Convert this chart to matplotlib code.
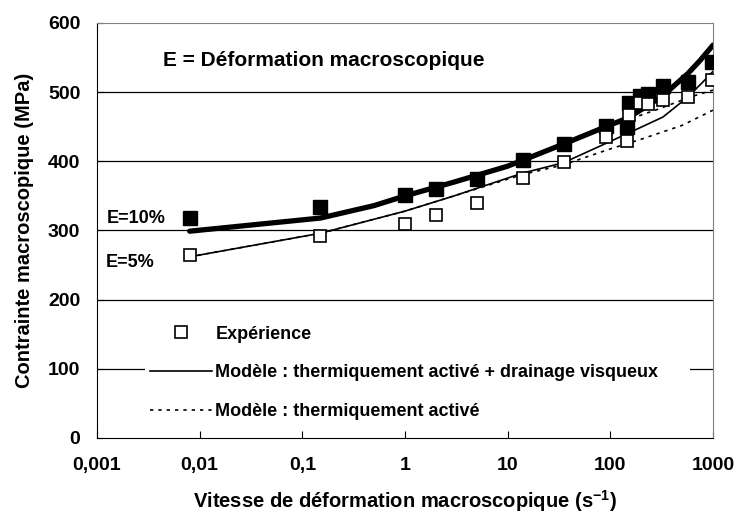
import matplotlib
matplotlib.use('Agg')
import matplotlib.pyplot as plt
from matplotlib.lines import Line2D

plt.rcParams['font.family'] = ['Liberation Sans', 'DejaVu Sans']
plt.rcParams['font.weight'] = 'bold'
plt.rcParams['mathtext.fontset'] = 'custom'
plt.rcParams['mathtext.bf'] = 'Liberation Sans:bold'
plt.rcParams['mathtext.rm'] = 'Liberation Sans:bold'

# experimental points, E = 10 %
rate_10 = [0.008, 0.15, 1, 2, 5, 14, 35, 90, 146, 151, 194, 232, 325, 569, 973]
stress_10 = [318, 334, 351, 360, 375, 402, 425, 451, 450, 484, 494, 497, 509, 515, 543]

# experimental points, E = 5 %
rate_5 = [0.008, 0.15, 1, 2, 5, 14, 35, 90, 146, 151, 194, 232, 325, 569, 973]
stress_5 = [264, 292, 309, 322, 340, 376, 399, 435, 429, 467, 484, 483, 488, 493, 517]

# model: thermally activated + viscous drag
mod_rate_10 = [0.008, 0.15, 0.5, 1, 3, 10, 35, 90, 150, 320, 570, 750, 1000]
mod_stress_10 = [299, 318, 336, 350, 370, 393, 425, 450, 463, 494, 527, 546, 568]
mod_rate_5 = [0.008, 0.15, 1, 3, 14, 35, 146, 325, 570, 800, 1000]
mod_stress_5 = [262, 296, 328, 350, 383, 398, 440, 464, 493, 515, 530]

# model: thermally activated only
th_rate_10 = [0.008, 0.15, 0.5, 1, 3, 10, 35, 90, 160, 300, 600, 1000]
th_stress_10 = [299, 318, 336, 350, 370, 393, 424, 448, 462, 476, 493, 503]
th_rate_5 = [0.008, 0.15, 1, 3, 14, 35, 100, 200, 500, 1000]
th_stress_5 = [262, 296, 328, 350, 381, 395, 418, 432, 452, 474]

xticks = [0.001, 0.01, 0.1, 1, 10, 100, 1000]
xticklabels = ['0,001', '0,01', '0,1', '1', '10', '100', '1000']

fig = plt.figure(figsize=(7.37, 5.21), dpi=100)
ax = fig.add_axes([97 / 737, 1 - 438 / 521, 616 / 737, 415 / 521])

for y in range(100, 600, 100):
    ax.axhline(y, color='black', lw=0.9, zorder=1)

ax.plot(th_rate_10, th_stress_10, color='black', lw=1.2, ls=(0, (2, 3)), zorder=2)
ax.plot(th_rate_5, th_stress_5, color='black', lw=1.2, ls=(0, (2, 3)), zorder=2)
ax.plot(mod_rate_5, mod_stress_5, color='black', lw=1.2, zorder=3)
ax.plot(mod_rate_10, mod_stress_10, color='black', lw=3.8, zorder=3, solid_capstyle='round')

ax.plot(rate_10, stress_10, ls='none', marker='s', ms=9.5, mfc='black', mec='black', zorder=4)
ax.plot(rate_5, stress_5, ls='none', marker='s', ms=9, mfc='white', mec='black', mew=1.2, zorder=4)

ax.set_xscale('log')
ax.set_xlim(0.001, 1000)
ax.set_ylim(0, 600)
ax.set_xticks(xticks)
ax.set_xticklabels(xticklabels)
ax.minorticks_off()
ax.set_yticks(range(0, 700, 100))
ax.tick_params(axis='x', direction='in', length=5, labelsize=14, pad=14)
ax.tick_params(axis='y', direction='in', length=4, labelsize=14, pad=12)
for lab in ax.get_xticklabels() + ax.get_yticklabels():
    lab.set_fontweight('bold')

ax.spines['left'].set_color('black')
ax.spines['bottom'].set_color('black')
ax.spines['top'].set_color('#808080')
ax.spines['right'].set_color('#808080')

ax.set_xlabel('Vitesse de déformation macroscopique (s$^{\\mathbf{-1}}$)',
              fontsize=14.5, fontweight='bold', labelpad=10)
ax.set_ylabel('Contrainte macroscopique (MPa)', fontsize=14.5, fontweight='bold', labelpad=10)

ax.text(0.0044, 546, 'E = Déformation macroscopique', fontsize=15, fontweight='bold', va='center')
ax.text(0.00125, 318, 'E=10%', fontsize=13, fontweight='bold', va='center')
ax.text(0.00122, 254, 'E=5%', fontsize=13, fontweight='bold', va='center')

handles = [
    Line2D([], [], ls='none', marker='s', ms=9, mfc='white', mec='black', mew=1.2),
    Line2D([], [], color='black', lw=1.2),
    Line2D([], [], color='black', lw=1.2, ls=(0, (2, 3))),
]
labels = ['Expérience',
          'Modèle : thermiquement activé + drainage visqueux',
          'Modèle : thermiquement activé']
leg = ax.legend(handles, labels, loc='lower left', mode='expand',
                bbox_to_anchor=(0.078, 0.03, 0.885, 0.28), borderaxespad=0,
                frameon=True, facecolor='white', edgecolor='none', framealpha=1,
                fancybox=False, prop={'size': 13, 'weight': 'bold'},
                handlelength=3.4, labelspacing=1.2, handletextpad=0.2,
                borderpad=0.3)
leg.set_zorder(5)

fig.savefig('out.png', dpi=100)
